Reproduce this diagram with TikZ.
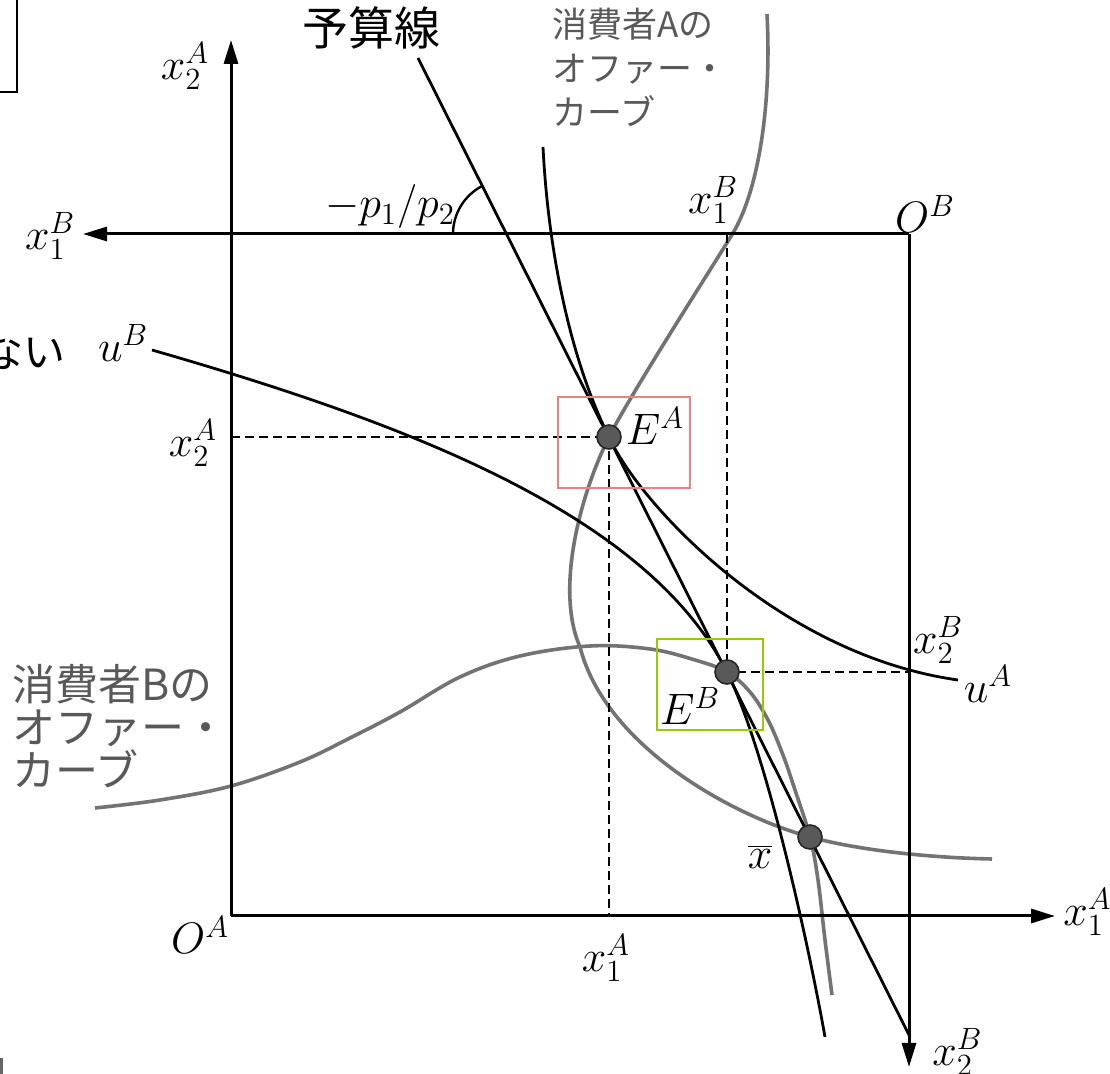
\documentclass[tikz,border=0pt]{standalone}
\usepackage{fix-cm}
\usepackage{fontspec}
\newfontfamily\jpfont{Noto Sans CJK JP}
\usepackage{tikz}
\usetikzlibrary{arrows.meta}
\definecolor{rotrahmen}{RGB}{240,128,128}
\definecolor{gruenrahmen}{RGB}{153,204,0}
\tikzset{
    achse/.style   = {line width=1.5pt, -{Triangle[length=12pt, width=7pt]}},
    kurve/.style   = {line width=1.4pt, black},
    angebot/.style = {line width=1.8pt, black!55},
    hilfs/.style   = {line width=1.3pt, dash pattern=on 4.5pt off 2.5pt},
    punkt/.style   = {circle, draw=black!85, fill=black!65, line width=0.8pt,
                      inner sep=0pt, minimum size=12pt},
    beschr/.style  = {font=\fontsize{22}{26}\selectfont, inner sep=0pt},
    jtext/.style   = {font=\jpfont\fontsize{21.5}{21.5}\selectfont, align=left, inner sep=0pt},
    rahmen/.style  = {line width=1pt}
}

\begin{document}
\begin{tikzpicture}[x=0.5pt, y=-0.5pt]
    \useasboundingbox (0,0) rectangle (1110,1074);

    % feste Punkte
    \coordinate (OA) at (231,916);
    \coordinate (OB) at (909,234);
    \coordinate (EA) at (609,437);
    \coordinate (EB) at (727,672);
    \coordinate (xq) at (810,837);
    \coordinate (x2Aspitze) at (231,40);
    \coordinate (x1Aspitze) at (1055,916);
    \coordinate (x1Bspitze) at (83,234);
    \coordinate (x2Bspitze) at (909,1067);
    \coordinate (bl0) at (418,58);
    \coordinate (bl1) at (910,1037);
    \coordinate (uA0) at (543,147);
    \coordinate (uA1) at (958,680);
    \coordinate (uB0) at (152,350);
    \coordinate (uB1) at (825,1037);
    \coordinate (oA0) at (767,14);
    \coordinate (oA1) at (992,859);

    % Rest eines Rahmens, Rand
    \draw[rahmen] (17,0) -- (17,92) -- (0,92);
    \fill[black!60] (0,1058) rectangle (3,1074);

    % Angebotskurven
    \draw[angebot] (oA0) .. controls (772,110) and (757,193) .. (733,233)
        .. controls (713,266) and (630,395) .. (EA)
        .. controls (580,495) and (555,590) .. (580,647)
        .. controls (605,745) and (730,815) .. (xq)
        .. controls (865,852) and (940,858) .. (oA1);
    \draw[angebot] plot[smooth, tension=0.6] coordinates {(95,808) (160,800) (231,786)
        (300,762) (350,738) (400,712) (460,677) (520,656) (590,646) (650,649) (695,660)
        (EB) (750,692) (768,720) (783,755) (795,790) (xq) (818,880) (825,940) (832,995)};

    % Achsen
    \draw[achse] (OA) -- (x2Aspitze);
    \draw[achse] (OA) -- (x1Aspitze);
    \draw[achse] (OB) -- (x1Bspitze);
    \draw[achse] (OB) -- (x2Bspitze);

    % Budgetgerade und Indifferenzkurven
    \draw[kurve] (bl0) -- (bl1);
    \draw[line width=1.2pt] (453,234) arc[start angle=180, end angle=116.8, radius=27pt];
    \draw[kurve] (uA0) .. controls (548,247) and (569,357) .. (EA)
        .. controls (640,505) and (780,655) .. (uA1);
    \draw[kurve] (uB0) .. controls (402,422) and (647,513) .. (EB)
        .. controls (767,752) and (810,952) .. (uB1);

    % Hilfslinien
    \draw[hilfs] (OA |- EA) -- (EA) -- (EA |- OA);
    \draw[hilfs] (EB |- OB) -- (EB) -- (OB |- EB);

    % Punkte
    \node[punkt] (pEA) at (EA) {};
    \node[punkt] (pEB) at (EB) {};
    \node[punkt] (pxq) at (xq) {};

    % Markierungen
    \draw[rahmen, rotrahmen] (558,397) rectangle (690,488);
    \draw[rahmen, gruenrahmen] (657,639) rectangle (763,730);

    % Beschriftungen
    \node[beschr] (lx2A) at (185,66) {$x_2^A$};
    \node[beschr] (lx1B) at (50,236) {$x_1^B$};
    \node[beschr] (lx1Bo) at (713,200) {$x_1^B$};
    \node[beschr] (lOB) at (925,214) {$O^B$};
    \node[beschr] (lp) at (390,207) {$-p_1/p_2$};
    \node[beschr] (luB) at (123,343) {$u^B$};
    \node[beschr] (lx2Al) at (193,443) {$x_2^A$};
    \node[beschr] (lEA) at (655,426) {$E^A$};
    \node[beschr] (lx2Br) at (938,640) {$x_2^B$};
    \node[beschr] (luA) at (988,684) {$u^A$};
    \node[beschr] (lEB) at (690,706) {$E^B$};
    \node[beschr] (lxq) at (760,857) {$\overline{x}$};
    \node[beschr] (lOA) at (200,935) {$O^A$};
    \node[beschr] (lx1A) at (606,958) {$x_1^A$};
    \node[beschr, anchor=west] (lx1Ar) at (1063,912) {$x_1^A$};
    \node[beschr, anchor=west] (lx2Bu) at (932,1052) {$x_2^B$};

    \node[jtext, font=\jpfont\fontsize{23}{26}\selectfont] (budget) at (371,28) {予算線};
    \node[jtext, anchor=east, font=\jpfont\fontsize{21}{24}\selectfont] (nai) at (66,352) {ない};
    \node[jtext, anchor=north west, text=black!65, font=\jpfont\fontsize{17.5}{22}\selectfont]
        (offA) at (552,8) {消費者Aの\\オファー・\\カーブ};
    \node[jtext, anchor=north west, text=black!65] (offB) at (12,664)
        {消費者Bの\\オファー・\\カーブ};
\end{tikzpicture}
\end{document}
